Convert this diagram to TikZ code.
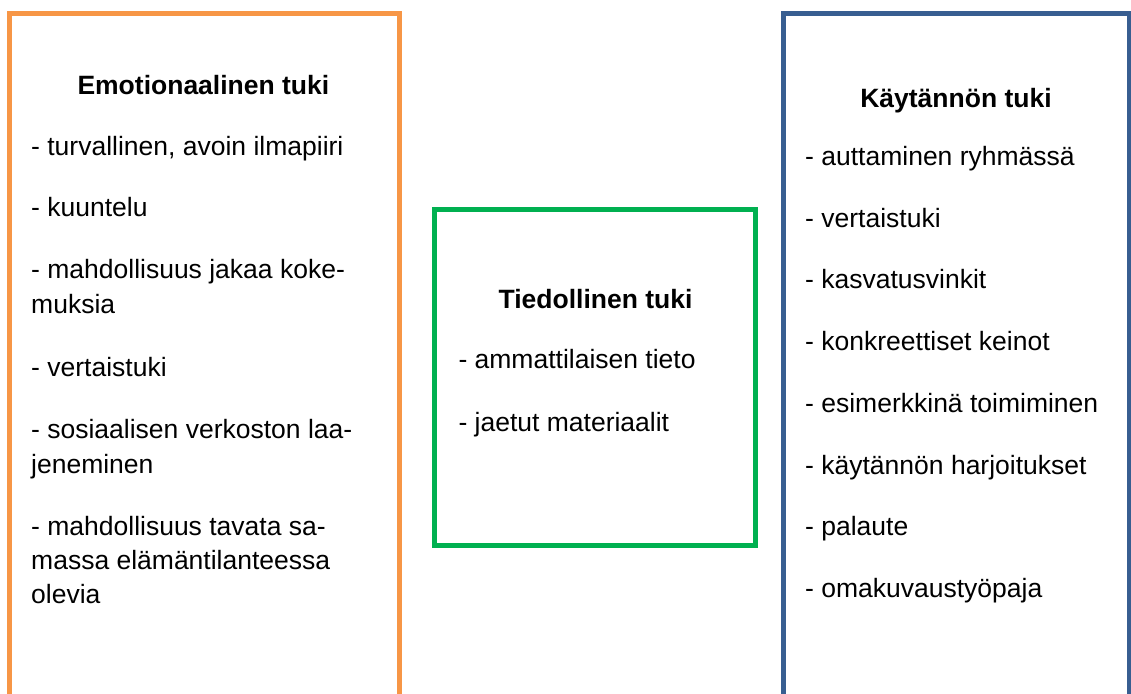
\documentclass[tikz,border=0pt]{standalone}
\usepackage{fontspec}
\setmainfont{Liberation Sans}
\definecolor{orangeb}{HTML}{F79646}
\definecolor{greenb}{HTML}{00B050}
\definecolor{blueb}{RGB}{56,94,145}
\begin{document}
\begin{tikzpicture}[x=1pt,y=-1pt,
  box/.style={draw, line width=5pt, inner sep=0pt, outer sep=0pt, rectangle},
  item/.style={anchor=base west, inner sep=0pt, font=\fontsize{26.5}{32}\selectfont},
  head/.style={anchor=base, inner sep=0pt, font=\fontsize{26.5}{32}\selectfont\bfseries}]
\useasboundingbox (0,0) rectangle (1131,693);
\clip (0,0) rectangle (1131,693);
% boxes
\node[box, draw=orangeb, minimum width=389.5pt, minimum height=706pt] (emo) at (204.25,367) {};
\node[box, draw=greenb, minimum width=320.5pt, minimum height=336pt] (tie) at (594.75,377.5) {};
\node[box, draw=blueb, minimum width=346pt, minimum height=706pt] (kay) at (956.5,367) {};
% left
\node[head] (h1) at (203.4,94) {Emotionaalinen tuki};
\node[item] (e1) at (31,155) {- turvallinen, avoin ilmapiiri};
\node[item] (e2) at (31,216.7) {- kuuntelu};
\node[item] (e3) at (31,278.3) {- mahdollisuus jakaa koke-};
\node[item] (e3b) at (31,313) {muksia};
\node[item] (e4) at (31,376.7) {- vertaistuki};
\node[item] (e5) at (31,438.3) {- sosiaalisen verkoston laa-};
\node[item] (e5b) at (31,473.3) {jeneminen};
\node[item] (e6) at (31,535) {- mahdollisuus tavata sa-};
\node[item] (e6b) at (31,569) {massa elämäntilanteessa};
\node[item] (e6c) at (31,603.5) {olevia};
% middle
\node[head] (h2) at (595.5,308.3) {Tiedollinen tuki};
\node[item] (t1) at (458.3,368.3) {- ammattilaisen tieto};
\node[item] (t2) at (458.3,431.7) {- jaetut materiaalit};
% right
\node[head] (h3) at (956,107) {Käytännön tuki};
\node[item] (k1) at (805,165.5) {- auttaminen ryhmässä};
\node[item] (k2) at (805,227.2) {- vertaistuki};
\node[item] (k3) at (805,288.9) {- kasvatusvinkit};
\node[item] (k4) at (805,350.6) {- konkreettiset keinot};
\node[item] (k5) at (805,412.3) {- esimerkkinä toimiminen};
\node[item] (k6) at (805,474) {- käytännön harjoitukset};
\node[item] (k7) at (805,535.7) {- palaute};
\node[item] (k8) at (805,597.4) {- omakuvaustyöpaja};
\end{tikzpicture}
\end{document}
